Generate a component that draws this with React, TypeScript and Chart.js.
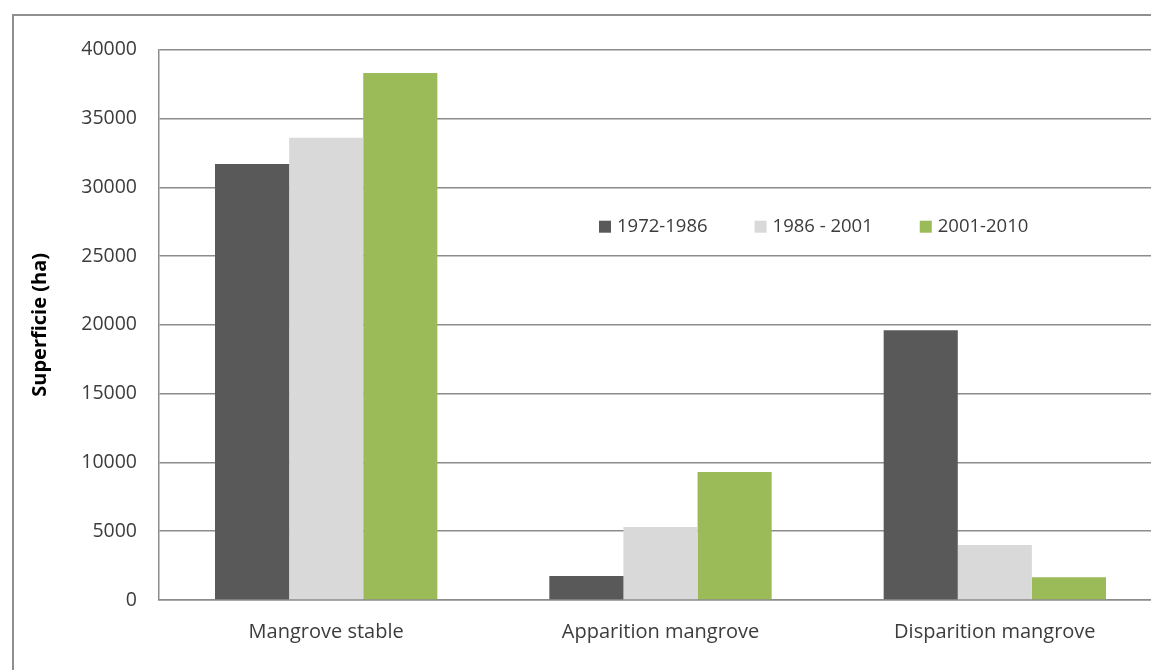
import React, { useEffect, useRef } from "react";
import { Chart, registerables } from "chart.js";

Chart.register(...registerables);

const categories = ["Mangrove stable", "Apparition mangrove", "Disparition mangrove"];
const seriesLabels = ["1972-1986", "1986 - 2001", "2001-2010"];
const series1972_1986 = [31700, 1750, 19600];
const series1986_2001 = [33600, 5300, 4000];
const series2001_2010 = [38300, 9300, 1650];
const seriesColors = ["#595959", "#d9d9d9", "#9bbb59"];
const yTicks = [0, 5000, 10000, 15000, 20000, 25000, 30000, 35000, 40000];
const yTitle = "Superficie (ha)";

const FONT = "'Open Sans', 'Liberation Sans', sans-serif";
const TEXT = "#3c3c3c";
const GRID = "#8c8c8c";

const legendPlugin = {
  id: "insideLegend",
  afterDraw(chart: any) {
    const { ctx, chartArea } = chart;
    ctx.save();
    ctx.font = `18.5px ${FONT}`;
    ctx.textBaseline = "middle";
    ctx.textAlign = "left";
    let x = chartArea.left + 440;
    const y = chartArea.top + 177;
    chart.data.datasets.forEach((ds: any) => {
      ctx.fillStyle = ds.backgroundColor;
      ctx.fillRect(x, y - 6, 12, 12);
      x += 18;
      ctx.fillStyle = TEXT;
      ctx.fillText(ds.label, x, y);
      x += ctx.measureText(ds.label).width + 47;
    });
    ctx.restore();
  },
};

export default function App() {
  const ref = useRef<HTMLCanvasElement>(null);
  useEffect(() => {
    document.body.style.margin = "0";
    document.body.style.overflow = "hidden";
    document.documentElement.style.overflow = "hidden";
    const data = [series1972_1986, series1986_2001, series2001_2010];
    const chart = new Chart(ref.current!, {
      type: "bar",
      data: {
        labels: categories,
        datasets: seriesLabels.map((label, i) => ({
          label,
          data: data[i],
          backgroundColor: seriesColors[i],
          borderWidth: 0,
          barPercentage: 1,
          categoryPercentage: 0.665,
        })),
      },
      options: {
        animation: false,
        responsive: false,
        maintainAspectRatio: false,
        layout: { padding: { top: 32, right: 12, bottom: 0, left: 0 } },
        plugins: {
          legend: { display: false },
          tooltip: { enabled: false },
        },
        scales: {
          x: {
            grid: { display: false, drawTicks: false },
            border: { display: true, color: GRID, width: 1.5 },
            ticks: { color: TEXT, font: { family: FONT, size: 20 }, padding: 20 },
            afterFit: (s: any) => {
              s.height = 70;
            },
          },
          y: {
            min: 0,
            max: 40000,
            afterBuildTicks: (s: any) => {
              s.ticks = yTicks.map((v) => ({ value: v }));
            },
            grid: { color: GRID, lineWidth: 1.5, drawTicks: false },
            border: { display: true, color: GRID, width: 1.5 },
            ticks: {
              color: TEXT,
              font: { family: FONT, size: 19.5 },
              padding: 22,
              callback: (v: any) => String(v),
            },
            title: {
              display: true,
              text: yTitle,
              color: "#000000",
              font: { family: FONT, size: 20, weight: "bold" },
              padding: { top: 14, bottom: 0 },
            },
            afterFit: (s: any) => {
              s.width = 145;
            },
          },
        },
      },
      plugins: [legendPlugin],
    });
    return () => chart.destroy();
  }, []);

  return (
    <div style={{ position: "relative", width: 1151, height: 670, overflow: "hidden", background: "#fff" }}>
      <div
        style={{
          position: "absolute",
          left: 12,
          top: 14,
          width: 1400,
          height: 900,
          borderTop: "2px solid #8f8f8f",
          borderLeft: "2px solid #8f8f8f",
          boxSizing: "border-box",
        }}
      />
      <canvas
        ref={ref}
        width={1160}
        height={654}
        style={{ position: "absolute", left: 14, top: 16, width: 1160, height: 654 }}
      />
    </div>
  );
}
